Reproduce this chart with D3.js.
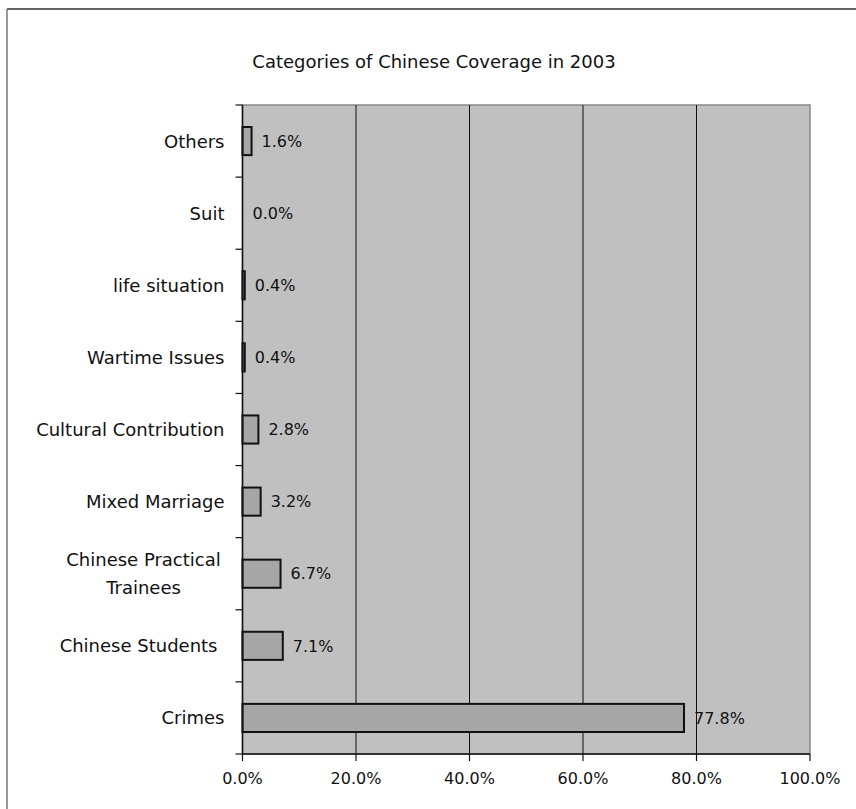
<!DOCTYPE html>
<html>
<head>
<meta charset="utf-8">
<script src="https://cdn.jsdelivr.net/npm/d3@7"></script>
<style>
  html, body { margin: 0; padding: 0; background: #ffffff; }
  svg { display: block; }
  text { font-family: "DejaVu Sans", "Liberation Sans", Arial, sans-serif; fill: #111; }
</style>
</head>
<body>
<svg id="chart" width="856" height="809"></svg>
<script>
const title = "Categories of Chinese Coverage in 2003";
const categories = [
  ["Others"],
  ["Suit"],
  ["life situation"],
  ["Wartime Issues"],
  ["Cultural Contribution"],
  ["Mixed Marriage"],
  ["Chinese Practical", "Trainees"],
  ["Chinese Students"],
  ["Crimes"]
];
const values = [1.6, 0.0, 0.4, 0.4, 2.8, 3.2, 6.7, 7.1, 77.8];
const xTicks = [0, 20, 40, 60, 80, 100];

const svg = d3.select("#chart");
const W = 856, H = 809;
const margin = { left: 242.5, right: W - 810, top: 105, bottom: H - 754 };
const pw = W - margin.left - margin.right;
const ph = H - margin.top - margin.bottom;

// outer frame (top and left border)
svg.append("line").attr("x1", 7).attr("x2", W).attr("y1", 9).attr("y2", 9)
  .attr("stroke", "#333").attr("stroke-width", 1.5);
svg.append("line").attr("x1", 7).attr("x2", 7).attr("y1", 9).attr("y2", H)
  .attr("stroke", "#777").attr("stroke-width", 1.5);

svg.append("text").attr("x", 434).attr("y", 62).attr("dy", "0.36em").attr("text-anchor", "middle")
  .style("font-size", "18px").text(title);

const x = d3.scaleLinear().domain([0, 100]).range([margin.left, margin.left + pw]);
const idx = categories.map((c, i) => i);
const y = d3.scaleBand().domain(idx)
  .range([margin.top, margin.top + ph]).paddingInner(0.61).paddingOuter(0.305);
const yb = d3.scaleBand().domain(idx).range([margin.top, margin.top + ph]);

// plot background
svg.append("rect").attr("x", x(0)).attr("y", margin.top).attr("width", pw).attr("height", ph)
  .attr("fill", "#c0c0c0").attr("stroke", "#888").attr("stroke-width", 1.5);

// gridlines
svg.append("g").selectAll("line").data(xTicks.filter(t => t > 0 && t < 100)).join("line")
  .attr("x1", d => x(d)).attr("x2", d => x(d))
  .attr("y1", margin.top).attr("y2", margin.top + ph)
  .attr("stroke", "#111").attr("stroke-width", 1);

// bars
svg.append("g").selectAll("rect").data(values.map((v, i) => ({ v, i })).filter(d => d.v > 0)).join("rect")
  .attr("x", x(0)).attr("y", d => y(d.i))
  .attr("width", d => x(d.v) - x(0)).attr("height", y.bandwidth())
  .attr("fill", "#a6a6a6").attr("stroke", "#111").attr("stroke-width", 2);

// value labels
svg.append("g").selectAll("text").data(values).join("text")
  .attr("x", d => x(d) + 10)
  .attr("y", (d, i) => y(i) + y.bandwidth() / 2)
  .attr("dy", "0.36em")
  .style("font-size", "16px")
  .text(d => d.toFixed(1) + "%");

// y axis
const yAxisG = svg.append("g");
yAxisG.append("line").attr("x1", x(0)).attr("x2", x(0))
  .attr("y1", margin.top).attr("y2", margin.top + ph).attr("stroke", "#111").attr("stroke-width", 1.5);
const bounds = d3.range(categories.length + 1).map(i => margin.top + i * yb.step());
yAxisG.selectAll(".yt").data(bounds).join("line")
  .attr("x1", x(0) - 7).attr("x2", x(0))
  .attr("y1", d => d).attr("y2", d => d).attr("stroke", "#111").attr("stroke-width", 1.2);

// category labels
const labelG = svg.append("g");
categories.forEach((lines, i) => {
  const cy = yb(i) + yb.bandwidth() / 2;
  const lh = 28;
  const t = labelG.append("text").style("font-size", "18px");
  if (lines.length === 1) {
    t.attr("text-anchor", "end").attr("x", x(0) - 18 - (lines[0] === "Chinese Students" ? 7 : 0))
      .attr("y", cy).attr("dy", "0.36em").text(lines[0]);
  } else {
    const cx = x(0) - 18 - 81;
    lines.forEach((ln, k) => {
      t.append("tspan").attr("x", cx).attr("text-anchor", "middle")
        .attr("y", cy + (k - (lines.length - 1) / 2) * lh).attr("dy", "0.36em").text(ln);
    });
  }
});

// x axis
const xAxisG = svg.append("g");
xAxisG.append("line").attr("x1", x(0)).attr("x2", x(100))
  .attr("y1", margin.top + ph).attr("y2", margin.top + ph).attr("stroke", "#111").attr("stroke-width", 1.5);
xAxisG.selectAll(".xt").data(xTicks).join("line")
  .attr("x1", d => x(d)).attr("x2", d => x(d))
  .attr("y1", margin.top + ph).attr("y2", margin.top + ph + 7)
  .attr("stroke", "#111").attr("stroke-width", 1.2);
xAxisG.selectAll("text").data(xTicks).join("text")
  .attr("x", d => x(d)).attr("y", margin.top + ph + 24).attr("dy", "0.36em")
  .attr("text-anchor", "middle").style("font-size", "16px")
  .text(d => d.toFixed(1) + "%");
</script>
</body>
</html>
